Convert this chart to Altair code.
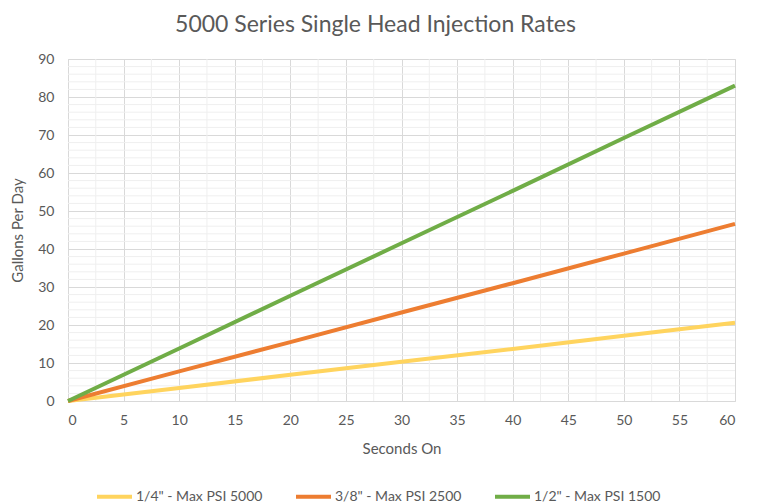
import altair as alt
import pandas as pd

seconds = [0, 10, 20, 30, 40, 50, 60]
quarter = [0, 3.4, 6.9, 10.3, 13.7, 17.2, 20.6]
three_eighths = [0, 7.8, 15.5, 23.3, 31.0, 38.8, 46.6]
half = [0, 13.8, 27.7, 41.5, 55.3, 69.2, 83.0]
series_names = ['1/4" - Max PSI 5000', '3/8" - Max PSI 2500', '1/2" - Max PSI 1500']
colors = ["#FFD45E", "#ED7D31", "#70AD47"]

x_ticks = [0, 5, 10, 15, 20, 25, 30, 35, 40, 45, 50, 55, 60]
y_ticks = [0, 10, 20, 30, 40, 50, 60, 70, 80, 90]
x_minor = [2.5, 7.5, 12.5, 17.5, 22.5, 27.5, 32.5, 37.5, 42.5, 47.5, 52.5, 57.5]
y_minor = [v for v in range(2, 90, 2) if v % 10 != 0]

FONT = "Lato"
GRAY = "#595959"

rows = []
for name, vals in zip(series_names, [quarter, three_eighths, half]):
    for s, v in zip(seconds, vals):
        rows.append({"Seconds": s, "Gallons": v, "Series": name})
df = pd.DataFrame(rows)

xs = alt.Scale(domain=[0, 60], nice=False)
ys = alt.Scale(domain=[0, 90], nice=False)

x_axis = alt.Axis(values=x_ticks, grid=True, gridColor="#d9d9d9",
                  domain=False, ticks=False, labelPadding=12, titlePadding=14,
                  labelFontSize=14, titleFontSize=15, labelColor=GRAY, titleColor=GRAY,
                  labelFont=FONT, titleFont=FONT, titleFontWeight="normal",
                  labelOverlap=False)
y_axis = alt.Axis(values=y_ticks, grid=True, gridColor="#d9d9d9",
                  domain=False, ticks=False, labelPadding=14, titlePadding=12,
                  labelFontSize=14, titleFontSize=15, labelColor=GRAY, titleColor=GRAY,
                  labelFont=FONT, titleFont=FONT, titleFontWeight="normal",
                  labelOverlap=False)

minor_x = alt.Chart(pd.DataFrame({"Seconds": x_minor})).mark_rule(color="#efefef", strokeWidth=1).encode(
    x=alt.X("Seconds:Q", scale=xs, title="Seconds On", axis=x_axis)
)
minor_y = alt.Chart(pd.DataFrame({"Gallons": y_minor})).mark_rule(color="#efefef", strokeWidth=1).encode(
    y=alt.Y("Gallons:Q", scale=ys, title="Gallons Per Day", axis=y_axis)
)

lines = alt.Chart(df).mark_line(strokeWidth=4, strokeCap="butt").encode(
    x=alt.X("Seconds:Q", scale=xs, title="Seconds On", axis=x_axis),
    y=alt.Y("Gallons:Q", scale=ys, title="Gallons Per Day", axis=y_axis),
    color=alt.Color("Series:N", sort=series_names,
                    scale=alt.Scale(domain=series_names, range=colors),
                    legend=alt.Legend(title=None, orient="none", direction="horizontal",
                                      legendX=27, legendY=418, symbolType="stroke",
                                      symbolSize=1225, symbolStrokeWidth=4,
                                      labelFontSize=14, labelColor=GRAY, labelFont=FONT,
                                      columnPadding=25, labelOffset=2)),
)

chart = alt.layer(minor_x, minor_y, lines).properties(
    width=667, height=342,
    title=alt.TitleParams("5000 Series Single Head Injection Rates", fontSize=23,
                          font=FONT, color=GRAY, fontWeight="normal", anchor="middle",
                          dx=-26, offset=15),
    autosize=alt.AutoSizeParams(type="none"),
    padding={"left": 60, "top": 51, "right": 16, "bottom": 104},
).configure_view(stroke=None).configure(background="white")

chart.save("out.html", embed_options={"renderer": "svg", "actions": False})
